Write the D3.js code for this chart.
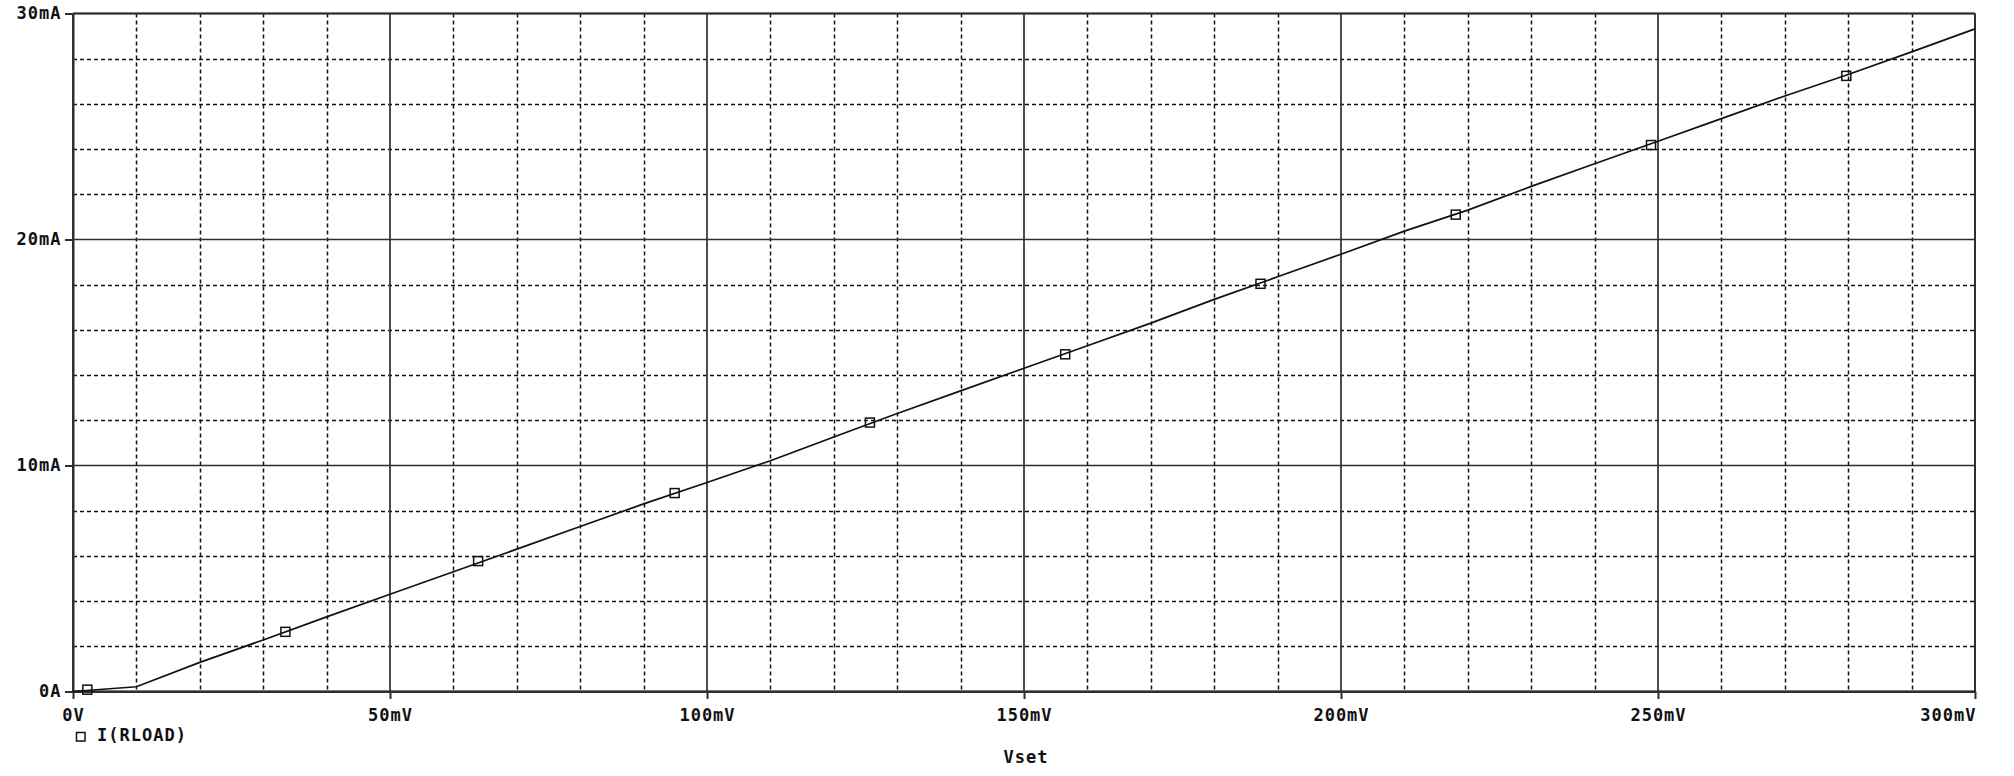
<!DOCTYPE html>
<html>
<head>
<meta charset="utf-8">
<script src="https://cdn.jsdelivr.net/npm/d3@7"></script>
<style>
  body { margin: 0; background: #fff; }
  svg text { font-family: "DejaVu Sans Mono", monospace; font-weight: bold; fill: #111; }
</style>
</head>
<body>
<svg id="chart" width="2014" height="776"></svg>
<script>
// I(RLOAD) vs Vset (mV, mA)
var vset = [0, 10, 20, 30, 40, 50, 60, 70, 80, 90, 100, 110, 120, 130, 140, 150,
            160, 170, 180, 190, 200, 210, 220, 230, 240, 250, 260, 270, 280, 290, 300];
var iload = [0, 0.21, 1.29, 2.28, 3.3, 4.3, 5.3, 6.3, 7.3, 8.3, 9.25, 10.21, 11.26, 12.3, 13.3, 14.3,
             15.3, 16.3, 17.35, 18.35, 19.35, 20.37, 21.3, 22.35, 23.35, 24.35, 25.35, 26.35, 27.3, 28.3, 29.32];

// trace marker positions
var markerV = [2.26, 33.5, 63.9, 94.9, 125.7, 156.5, 187.3, 218.1, 248.9, 279.7];
var markerI = [0.08, 2.64, 5.77, 8.78, 11.9, 14.92, 18.04, 21.1, 24.18, 27.24];

var xTicks = [0, 50, 100, 150, 200, 250, 300];
var xTickLabels = ["0V", "50mV", "100mV", "150mV", "200mV", "250mV", "300mV"];
var yTicks = [0, 10, 20, 30];
var yTickLabels = ["0A", "10mA", "20mA", "30mA"];
var xMinor = [10, 20, 30, 40, 60, 70, 80, 90, 110, 120, 130, 140, 160, 170, 180, 190, 210, 220, 230, 240, 260, 270, 280, 290];
var yMinor = [2, 4, 6, 8, 12, 14, 16, 18, 22, 24, 26, 28];

var svg = d3.select("#chart"),
    pLeft = 73, pRight = 1975, pTop = 13.5, pBottom = 691.5;

var x = d3.scaleLinear().domain([0, 300]).range([pLeft, pRight]);
var y = d3.scaleLinear().domain([0, 30]).range([pBottom, pTop]);

var axisColor = "#2e2e2e";

// dashed minor grid
var grid = svg.append("g");
grid.selectAll(".vminor").data(xMinor).enter().append("line")
    .attr("x1", d => Math.round(x(d)) + 0.5).attr("x2", d => Math.round(x(d)) + 0.5)
    .attr("y1", pTop).attr("y2", pBottom)
    .attr("stroke", "#111").attr("stroke-width", 1.5).attr("stroke-dasharray", "4,3");
grid.selectAll(".hminor").data(yMinor).enter().append("line")
    .attr("x1", pLeft).attr("x2", pRight)
    .attr("y1", d => Math.round(y(d)) + 0.5).attr("y2", d => Math.round(y(d)) + 0.5)
    .attr("stroke", "#111").attr("stroke-width", 1.5).attr("stroke-dasharray", "4,3");

// solid major grid
grid.selectAll(".vmajor").data(xTicks).enter().append("line")
    .attr("x1", d => x(d)).attr("x2", d => x(d))
    .attr("y1", pTop).attr("y2", pBottom)
    .attr("stroke", axisColor).attr("stroke-width", 1.7);
grid.selectAll(".hmajor").data(yTicks).enter().append("line")
    .attr("x1", pLeft).attr("x2", pRight)
    .attr("y1", d => y(d)).attr("y2", d => y(d))
    .attr("stroke", axisColor).attr("stroke-width", 1.7);

// axes
var xAxis = d3.axisBottom(x).tickValues(xTicks)
    .tickFormat((d, i) => xTickLabels[i]).tickSize(7.5).tickPadding(9.5).tickSizeOuter(0);
var gx = svg.append("g").attr("transform", "translate(0," + pBottom + ")").call(xAxis);

var yAxis = d3.axisLeft(y).tickValues(yTicks)
    .tickFormat((d, i) => yTickLabels[i]).tickSize(8).tickPadding(3.5).tickSizeOuter(0);
var gy = svg.append("g").attr("transform", "translate(" + pLeft + ",0)").call(yAxis);

[gx, gy].forEach(function(g) {
    g.select(".domain").attr("stroke", axisColor).attr("stroke-width", 2);
    g.selectAll(".tick line").attr("stroke", axisColor).attr("stroke-width", 2);
    g.selectAll(".tick text")
        .style("font-family", "DejaVu Sans Mono").style("font-weight", "bold")
        .style("font-size", "17px").style("letter-spacing", "1px").attr("fill", "#111");
});
gx.selectAll(".tick text").filter((d, i) => i === xTicks.length - 1)
    .attr("text-anchor", "end").attr("dx", 1);

// plot frame
svg.append("rect")
    .attr("x", pLeft).attr("y", pTop)
    .attr("width", pRight - pLeft).attr("height", pBottom - pTop)
    .attr("rx", 1.5)
    .attr("fill", "none").attr("stroke", axisColor).attr("stroke-width", 2);

// trace
var pts = vset.map((v, i) => [v, iload[i]]);
svg.append("path")
    .datum(pts)
    .attr("d", d3.line().x(d => x(d[0])).y(d => y(d[1])))
    .attr("fill", "none").attr("stroke", "#111").attr("stroke-width", 1.7);

svg.selectAll(".mark").data(markerV).enter().append("rect")
    .attr("x", d => x(d) - 4.5)
    .attr("y", (d, i) => y(markerI[i]) - 4.5)
    .attr("width", 9).attr("height", 9)
    .attr("fill", "none").attr("stroke", "#111").attr("stroke-width", 1.5);

// legend and axis title
svg.append("rect")
    .attr("x", 76.5).attr("y", 732.5).attr("width", 8.5).attr("height", 8.5)
    .attr("fill", "none").attr("stroke", "#111").attr("stroke-width", 1.5);
svg.append("text")
    .attr("x", 97).attr("y", 741)
    .style("font-size", "17px").style("letter-spacing", "1px")
    .text("I(RLOAD)");

svg.append("text")
    .attr("x", (pLeft + pRight) / 2 + 2).attr("y", 763)
    .attr("text-anchor", "middle")
    .style("font-size", "17px").style("letter-spacing", "1px")
    .text("Vset");
</script>
</body>
</html>
